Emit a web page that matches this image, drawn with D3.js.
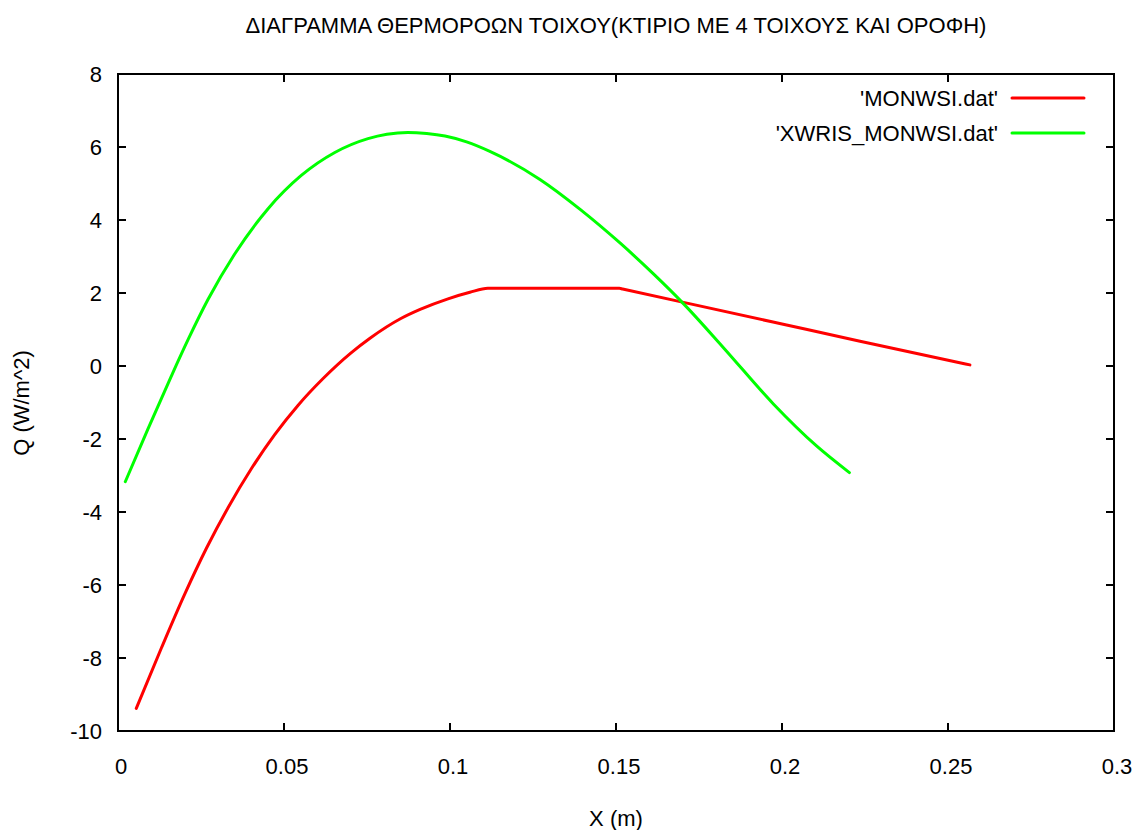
<!DOCTYPE html>
<html>
<head>
<meta charset="utf-8">
<script src="https://cdn.jsdelivr.net/npm/d3@7"></script>
<style>
  body { margin: 0; background: #fff; }
  text { font-family: "Liberation Sans", Arial, sans-serif; fill: #000; }
</style>
</head>
<body>
<svg id="chart" width="1137" height="830"></svg>
<script>
// values
var seriesNames = ["'MONWSI.dat'", "'XWRIS_MONWSI.dat'"];
var seriesColors = ["#ff0000", "#00ff00"];

var monwsiX = [0.0055, 0.0131, 0.0201, 0.0266, 0.0331, 0.0402, 0.0472, 0.0542, 0.0617, 0.0702,
  0.0759, 0.0852, 0.091, 0.0994, 0.106, 0.1114, 0.151, 0.152, 0.17, 0.2, 0.2235, 0.2566];
var monwsiQ = [-9.38, -7.72, -6.25, -5.00, -3.89, -2.81, -1.88, -1.08, -0.35, 0.36,
  0.76, 1.30, 1.55, 1.84, 2.02, 2.13, 2.13, 2.11, 1.75, 1.15, 0.68, 0.03];

var xwrisX = [0.0022, 0.009, 0.016, 0.0211, 0.0271, 0.0351, 0.0452, 0.0552, 0.0653, 0.0753, 0.081, 0.0873,
  0.093, 0.0985, 0.105, 0.112, 0.1271, 0.1392, 0.1512, 0.1612, 0.1703, 0.1823, 0.1974, 0.2104, 0.2203];
var xwrisQ = [-3.17, -1.73, -0.29, 0.72, 1.82, 3.06, 4.31, 5.22, 5.85, 6.23, 6.35, 6.40,
  6.37, 6.30, 6.14, 5.88, 5.11, 4.29, 3.37, 2.53, 1.71, 0.51, -1.04, -2.19, -2.92];

var xTicks = [0, 0.05, 0.1, 0.15, 0.2, 0.25, 0.3];
var yTicks = [-10, -8, -6, -4, -2, 0, 2, 4, 6, 8];

var titleText = "ΔΙΑΓΡΑΜΜΑ ΘΕΡΜΟΡΟΩΝ ΤΟΙΧΟΥ(ΚΤΙΡΙΟ ΜΕ 4 ΤΟΙΧΟΥΣ ΚΑΙ ΟΡΟΦΗ)";
var xLabel = "X (m)";
var yLabel = "Q (W/m^2)";

function drawChart() {
  var pLeft = 118, pRight = 1114, pTop = 74, pBottom = 731;
  var fs = "22px";

  var svg = d3.select("#chart");

  var x = d3.scaleLinear().domain([0, 0.3]).range([pLeft, pRight]);
  var y = d3.scaleLinear().domain([-10, 8]).range([pBottom, pTop]);

  // ticks on all four sides, pointing inwards (gnuplot style)
  var tickLen = 8;
  var g = svg.append("g").attr("stroke", "#000").attr("stroke-width", 2);

  xTicks.forEach(function(t) {
    g.append("line").attr("x1", x(t)).attr("x2", x(t)).attr("y1", pBottom).attr("y2", pBottom - tickLen);
    g.append("line").attr("x1", x(t)).attr("x2", x(t)).attr("y1", pTop).attr("y2", pTop + tickLen);
  });
  yTicks.forEach(function(t) {
    g.append("line").attr("x1", pLeft).attr("x2", pLeft + tickLen).attr("y1", y(t)).attr("y2", y(t));
    g.append("line").attr("x1", pRight).attr("x2", pRight - tickLen).attr("y1", y(t)).attr("y2", y(t));
  });

  svg.selectAll(".xt")
    .data(xTicks)
    .enter().append("text")
    .attr("x", function(d) { return x(d) + 3; })
    .attr("y", 774)
    .attr("text-anchor", "middle")
    .style("font-size", fs)
    .text(function(d) { return d3.format("")(d); });

  svg.selectAll(".yt")
    .data(yTicks)
    .enter().append("text")
    .attr("x", 102)
    .attr("y", function(d) { return y(d) + 8; })
    .attr("text-anchor", "end")
    .style("font-size", fs)
    .text(function(d) { return d; });

  // curves
  var lineGen = d3.line()
    .x(function(d) { return x(d[0]); })
    .y(function(d) { return y(d[1]); })
    .curve(d3.curveMonotoneX);

  var series = [
    d3.zip(monwsiX, monwsiQ),
    d3.zip(xwrisX, xwrisQ)
  ];

  svg.selectAll(".curve")
    .data(series)
    .enter().append("path")
    .attr("class", "curve")
    .attr("d", lineGen)
    .attr("fill", "none")
    .attr("stroke", function(d, i) { return seriesColors[i]; })
    .attr("stroke-width", 3)
    .attr("stroke-linejoin", "round")
    .attr("stroke-linecap", "round");

  // border
  svg.append("rect")
    .attr("x", pLeft).attr("y", pTop)
    .attr("width", pRight - pLeft).attr("height", pBottom - pTop)
    .attr("fill", "none").attr("stroke", "#000").attr("stroke-width", 2);

  // legend
  seriesNames.forEach(function(name, i) {
    var ly = 98 + i * 35;
    svg.append("text")
      .attr("x", 998).attr("y", ly + 8)
      .attr("text-anchor", "end")
      .style("font-size", fs)
      .text(name);
    svg.append("line")
      .attr("x1", 1012).attr("x2", 1084)
      .attr("y1", ly).attr("y2", ly)
      .attr("stroke", seriesColors[i]).attr("stroke-width", 3)
      .attr("stroke-linecap", "round");
  });

  // titles
  svg.append("text")
    .attr("x", 616).attr("y", 33)
    .attr("text-anchor", "middle")
    .style("font-size", fs)
    .text(titleText);

  svg.append("text")
    .attr("x", 616).attr("y", 826)
    .attr("text-anchor", "middle")
    .style("font-size", fs)
    .text(xLabel);

  svg.append("text")
    .attr("transform", "translate(29,403) rotate(-90)")
    .attr("text-anchor", "middle")
    .style("font-size", fs)
    .text(yLabel);
}

drawChart();
</script>
</body>
</html>
